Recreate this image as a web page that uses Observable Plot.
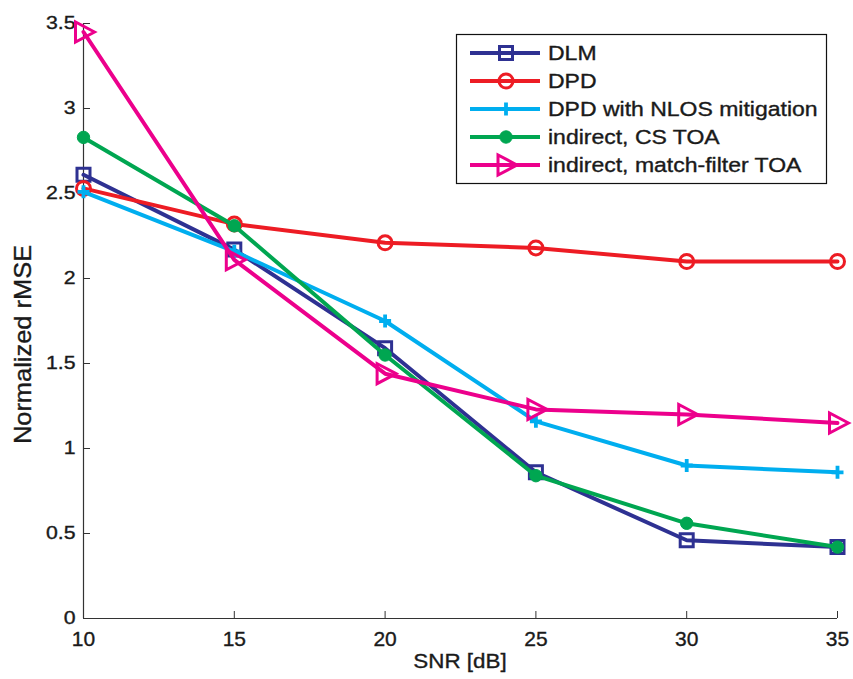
<!DOCTYPE html>
<html>
<head>
<meta charset="utf-8">
<script src="https://cdn.jsdelivr.net/npm/d3@7"></script>
<script src="https://cdn.jsdelivr.net/npm/@observablehq/plot@0.6"></script>
<style>
  html, body { margin: 0; padding: 0; background: #fff; }
  #chart { position: relative; width: 853px; height: 679px; font-family: "Liberation Sans", Arial, Helvetica, sans-serif; }
  #chart svg { display: block; }
  #legend { position: absolute; left: 0; top: 0; pointer-events: none; }
  #chart text { stroke: #1a1a1a; stroke-width: 0.35px; paint-order: stroke; }
</style>
</head>
<body>
<div id="chart"></div>
<script>
// ---- data ----
const snr = [10, 15, 20, 25, 30, 35];
const dlm     = [2.61, 2.17, 1.59, 0.86, 0.46, 0.42];
const dpd     = [2.53, 2.32, 2.21, 2.18, 2.10, 2.10];
const dpdNlos = [2.51, 2.16, 1.75, 1.16, 0.90, 0.86];
const csToa   = [2.83, 2.31, 1.55, 0.84, 0.56, 0.42];
const mfToa   = [3.45, 2.11, 1.44, 1.23, 1.20, 1.15];
const seriesNames = ["DLM", "DPD", "DPD with NLOS mitigation", "indirect, CS TOA", "indirect, match-filter TOA"];
const xTicks = [10, 15, 20, 25, 30, 35];
const yTicks = [0, 0.5, 1, 1.5, 2, 2.5, 3, 3.5];
const yTickLabels = ["0", "0.5", "1", "1.5", "2", "2.5", "3", "3.5"];
const xLabel = "SNR [dB]";
const yLabel = "Normalized rMSE";

// ---- styles ----
const symbols = {
  square: {draw(c) { c.moveTo(-6.5, -6.5); c.lineTo(6.5, -6.5); c.lineTo(6.5, 6.5); c.lineTo(-6.5, 6.5); c.closePath(); }},
  circle: {draw(c) { c.moveTo(7, 0); c.arc(0, 0, 7, 0, 2 * Math.PI); }},
  plus:   {draw(c) { c.moveTo(-6, 0); c.lineTo(6, 0); c.moveTo(0, -6.5); c.lineTo(0, 6.5); }},
  dot:    {draw(c) { c.moveTo(6.2, 0); c.arc(0, 0, 6.2, 0, 2 * Math.PI); }},
  triRight: {draw(c) { c.moveTo(11, 0); c.lineTo(-8, -10); c.lineTo(-8, 10); c.closePath(); }}
};
const seriesValues = [dlm, dpd, dpdNlos, csToa, mfToa];
const seriesColors = ["#2e3192", "#ed1c24", "#00aeef", "#00a651", "#ec008c"];
const seriesSymbols = ["square", "circle", "plus", "dot", "triRight"];
const seriesFills = ["none", "none", "none", "#00a651", "none"];
const seriesMarkerWidths = [3, 3, 3.8, 1, 3];

const W = 853, H = 679;
const mL = 83, mR = 16, mT = 23, mB = 61;
const plotW = W - mL - mR, plotH = H - mT - mB;
const axisColor = "#333";
const textColor = "#1a1a1a";
const fontFam = '"Liberation Sans", Arial, Helvetica, sans-serif';

const marks = [
  Plot.ruleX([10], {stroke: axisColor, strokeWidth: 1.2}),
  Plot.ruleY([0], {stroke: axisColor, strokeWidth: 1.2}),
  Plot.tickX(xTicks, {x: d => d, insetTop: plotH - 7, stroke: axisColor}),
  Plot.tickY(yTicks, {y: d => d, insetRight: plotW - 7, stroke: axisColor}),
  Plot.axisX(xTicks, {tickSize: 0, tickPadding: 13, fontSize: 21, label: null, tickFormat: d => String(d)}),
  Plot.axisY(yTicks, {tickSize: 0, tickPadding: 8, fontSize: 18.5, label: null, tickFormat: d => yTickLabels[yTicks.indexOf(d)]})
];

seriesValues.forEach((vals, k) => {
  const data = snr.map((x, i) => ({x, y: vals[i]}));
  marks.push(Plot.line(data, {x: "x", y: "y", stroke: seriesColors[k], strokeWidth: 4, strokeLinejoin: "miter"}));
  marks.push(Plot.dot(data, {
    x: "x", y: "y", r: 6,
    symbol: symbols[seriesSymbols[k]],
    stroke: seriesColors[k], fill: seriesFills[k], strokeWidth: seriesMarkerWidths[k]
  }));
});

const chart = Plot.plot({
  width: W, height: H,
  marginLeft: mL, marginRight: mR, marginTop: mT, marginBottom: mB,
  x: {domain: [10, 35], axis: null},
  y: {domain: [0, 3.5], axis: null},
  style: {fontFamily: fontFam, background: "#fff", color: textColor, overflow: "visible"},
  marks
});

// stretch y tick labels horizontally to mimic the reference font
chart.querySelectorAll("g[aria-label] text").forEach(t => {
  const lab = t.parentNode.getAttribute("aria-label") || "";
  if (lab.includes("y-axis") && lab.includes("label")) {
    const tr = t.getAttribute("transform") || "";
    t.setAttribute("transform", tr + " scale(1.15,1)");
  }
});

const container = document.getElementById("chart");
container.appendChild(chart);

// axis titles
const svg = d3.select(chart);
const xs = chart.scale("x"), ys = chart.scale("y");
svg.append("text")
  .attr("transform", `translate(${(xs.apply(10) + xs.apply(35)) / 2},668) scale(1.12,1)`)
  .attr("text-anchor", "middle")
  .attr("font-size", 20).attr("fill", textColor)
  .text(xLabel);
svg.append("text")
  .attr("transform", `translate(31,${(ys.apply(0) + ys.apply(3.5)) / 2 + 24}) rotate(-90) scale(1.06,1)`)
  .attr("text-anchor", "middle")
  .attr("font-size", 24).attr("fill", textColor)
  .text(yLabel);

// legend
const lg = d3.select(container).append("svg")
  .attr("id", "legend").attr("width", W).attr("height", H);
lg.append("rect").attr("x", 456.5).attr("y", 34.5).attr("width", 370).attr("height", 149)
  .attr("fill", "#fff").attr("stroke", "#111").attr("stroke-width", 1.2);
const rowY = [53, 81, 109, 137, 165];
seriesNames.forEach((name, k) => {
  const g = lg.append("g").attr("transform", `translate(0,${rowY[k]})`);
  g.append("line").attr("x1", 470).attr("x2", 540).attr("y1", 0).attr("y2", 0)
    .attr("stroke", seriesColors[k]).attr("stroke-width", 4);
  const p = d3.path();
  symbols[seriesSymbols[k]].draw(p);
  g.append("path").attr("d", p.toString()).attr("transform", "translate(506,0)")
    .attr("stroke", seriesColors[k]).attr("fill", seriesFills[k]).attr("stroke-width", seriesMarkerWidths[k]);
  g.append("text").attr("transform", "translate(548,7) scale(1.18,1)")
    .attr("font-family", fontFam)
    .attr("font-size", 19.5).attr("fill", textColor).text(name);
});
</script>
</body>
</html>
